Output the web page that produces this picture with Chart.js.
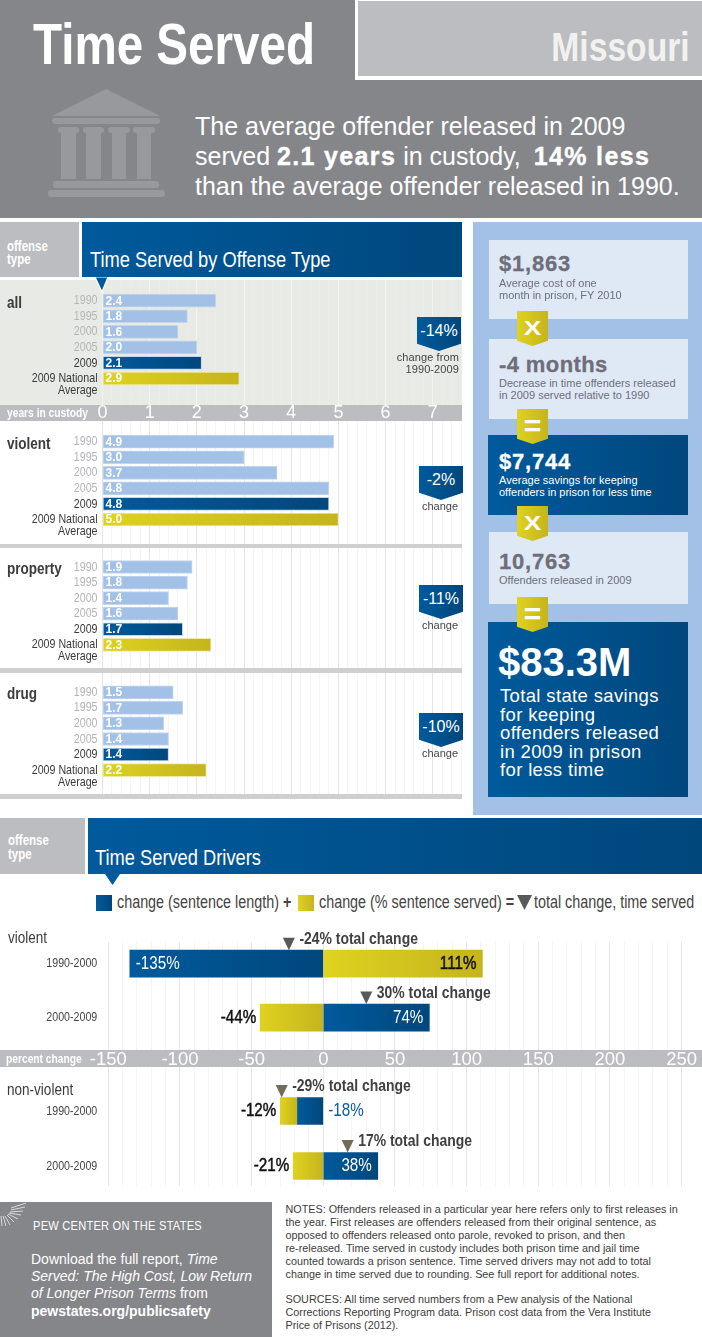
<!DOCTYPE html>
<html><head><meta charset="utf-8">
<script src="https://cdn.jsdelivr.net/npm/chart.js@4"></script>
<style>
html,body{margin:0;padding:0;background:#fff}
#page{position:relative;width:702px;height:1337px;overflow:hidden;background:#fff;font-family:"Liberation Sans",Arial,sans-serif}
.b{position:absolute}
.t{position:absolute;white-space:nowrap;line-height:1;transform:translateY(-50%)}
.n{transform:translateY(-50%) scaleX(.82);transform-origin:left center}
.p{position:absolute;white-space:nowrap}
.blue{background:linear-gradient(90deg,#005a9c,#00477c)}
.yel{background:linear-gradient(90deg,#dfd21f,#c5b41d)}
.badge{position:absolute;width:44px;height:34px;clip-path:polygon(0 0,100% 0,100% 79%,50% 100%,0 79%);color:#fff;font-size:16px;text-align:center;line-height:27px}
.ybadge{position:absolute;left:517px;width:31px;height:35px;clip-path:polygon(0 0,100% 0,100% 85%,50% 100%,0 85%);color:#fff;font-weight:bold;text-align:center}
.xg{font-size:21px;line-height:34px;display:block;transform:scaleX(1.25)}
.eq{font-size:30px;line-height:33px;display:block}
.box{position:absolute;left:489px;width:199px;background:#dfe9f6}
.dark{left:488px;width:200px;background:linear-gradient(90deg,#005a9c,#00477c)}
.big{letter-spacing:.8px;-webkit-text-stroke:.3px currentColor}
.lead b{letter-spacing:1.35px;-webkit-text-stroke:.4px #fff}
canvas{position:absolute;display:block}
</style></head><body><div id="page">

<!-- header -->
<div class="b" style="left:0;top:0;width:702px;height:218px;background:#85868a"></div>
<div class="b" style="left:355px;top:0;width:347px;height:80px;background:#fff"></div>
<div class="b" style="left:358px;top:1px;width:344px;height:75px;background:#bcbdc1"></div>
<div class="t n" style="left:33px;top:44px;font-size:58px;font-weight:bold;color:#fff">Time Served</div>
<div class="t n" style="right:12px;top:47px;font-size:41px;font-weight:bold;color:#f1f2f0;transform-origin:right center">Missouri</div>
<svg class="b" style="left:0;top:0" width="200" height="218"><g fill="#98999d">
<polygon points="106,89 160,116 52,116"/><rect x="52" y="118" width="108" height="6" rx="3"/>
<rect x="58" y="127" width="21" height="6" rx="3"/><rect x="83" y="127" width="21" height="6" rx="3"/><rect x="108" y="127" width="22" height="6" rx="3"/><rect x="133" y="127" width="22" height="6" rx="3"/>
<rect x="61" y="133" width="15" height="46"/><rect x="86" y="133" width="15" height="46"/><rect x="112" y="133" width="14" height="46"/><rect x="137" y="133" width="14" height="46"/>
<rect x="53" y="181" width="106" height="7" rx="3"/><rect x="48" y="190" width="117" height="7" rx="3"/></g></svg>
<div class="t lead" style="left:195px;top:126px;font-size:25px;color:#fff">The average offender released in 2009</div>
<div class="t lead" style="left:195px;top:156px;font-size:25px;color:#fff">served <b>2.1 years</b> in custody, <b style="margin-left:6px">14% less</b></div>
<div class="t lead" style="left:195px;top:186px;font-size:25px;color:#fff">than the average offender released in 1990.</div>

<!-- section 1 header -->
<div class="b" style="left:0;top:222px;width:79px;height:55px;background:#bcbdc1"></div>
<div class="t n" style="left:7px;top:246px;font-size:14px;font-weight:bold;color:#fff">offense</div>
<div class="t n" style="left:7px;top:259px;font-size:14px;font-weight:bold;color:#fff">type</div>
<div class="b blue" style="left:82px;top:222px;width:380px;height:55px"></div>
<div class="t n" style="left:90px;top:260px;font-size:22.3px;color:#fff">Time Served by Offense Type</div>

<!-- panels under the charts -->
<div class="b" style="left:0;top:280px;width:462px;height:125px;background:#e8eae5"></div>
<div class="b" style="left:0;top:405px;width:462px;height:16px;background:#bcbdc1"></div>
<div class="b" style="left:0;top:544px;width:462px;height:4px;background:#cfcfcf"></div>
<div class="b" style="left:0;top:668px;width:462px;height:5px;background:#cfcfcf"></div>
<div class="b" style="left:0;top:794px;width:462px;height:5px;background:#cfcfcf"></div>

<canvas id="cAll" style="left:0;top:280px" width="462" height="141"></canvas>
<canvas id="cViolent" style="left:0;top:421px" width="462" height="123"></canvas>
<canvas id="cProperty" style="left:0;top:548px" width="462" height="120"></canvas>
<canvas id="cDrug" style="left:0;top:673px" width="462" height="121"></canvas>

<svg class="b" style="left:90px;top:275px" width="26" height="20"><polygon points="5,2 18,2 12,17" fill="#00599a" stroke="#fff" stroke-width="1.2"/><rect x="0" y="0" width="26" height="2" fill="#005a9c"/></svg>

<div class="t n" style="left:7px;top:412.5px;font-size:12.5px;font-weight:bold;color:#fff">years in custody</div>
<div class="t n" style="left:7px;top:302px;font-size:16.5px;font-weight:bold;color:#3c3c3c">all</div>
<div class="t n" style="left:7px;top:443px;font-size:16.5px;font-weight:bold;color:#3c3c3c">violent</div>
<div class="t n" style="left:7px;top:568px;font-size:16.5px;font-weight:bold;color:#3c3c3c">property</div>
<div class="t n" style="left:7px;top:693px;font-size:16.5px;font-weight:bold;color:#3c3c3c">drug</div>

<div class="badge blue" style="left:417px;top:317px">-14%</div>
<div class="t" style="right:243px;top:357px;font-size:11px;letter-spacing:.1px;color:#444">change from</div>
<div class="t" style="right:243px;top:369px;font-size:11px;letter-spacing:.1px;color:#444">1990-2009</div>
<div class="badge blue" style="left:419px;top:466px">-2%</div>
<div class="t" style="left:422px;top:506px;font-size:11px;color:#444">change</div>
<div class="badge blue" style="left:419px;top:585px">-11%</div>
<div class="t" style="left:422px;top:625px;font-size:11px;color:#444">change</div>
<div class="badge blue" style="left:419px;top:713px">-10%</div>
<div class="t" style="left:422px;top:753px;font-size:11px;color:#444">change</div>

<!-- right column -->
<div class="b" style="left:473px;top:222px;width:229px;height:593px;background:#a3c1e6"></div>
<div class="box" style="top:240px;height:79px"></div>
<div class="box" style="top:339px;height:80px"></div>
<div class="box dark" style="top:435px;height:80px"></div>
<div class="box" style="top:532px;height:72px"></div>
<div class="box dark" style="top:622px;height:175px"></div>
<div class="ybadge yel" style="top:311px"><span class="xg">X</span></div>
<div class="ybadge yel" style="top:409px"><span class="eq">=</span></div>
<div class="ybadge yel" style="top:506px"><span class="xg">X</span></div>
<div class="ybadge yel" style="top:597px"><span class="eq">=</span></div>
<div class="t big" style="left:499px;top:264px;font-size:22px;font-weight:bold;color:#6e6e7a">$1,863</div>
<div class="t" style="left:499px;top:283px;font-size:11px;color:#6e6e7a">Average cost of one</div>
<div class="t" style="left:499px;top:295px;font-size:11px;color:#6e6e7a">month in prison, FY 2010</div>
<div class="t" style="left:499px;top:365px;font-size:22px;font-weight:bold;letter-spacing:.4px;-webkit-text-stroke:.3px #6e6e7a;color:#6e6e7a">-4 months</div>
<div class="t" style="left:499px;top:383px;font-size:11px;color:#6e6e7a">Decrease in time offenders released</div>
<div class="t" style="left:499px;top:395px;font-size:11px;color:#6e6e7a">in 2009 served relative to 1990</div>
<div class="t big" style="left:499px;top:462px;font-size:22px;font-weight:bold;color:#fff">$7,744</div>
<div class="t" style="left:499px;top:480px;font-size:11px;color:#fff">Average savings for keeping</div>
<div class="t" style="left:499px;top:492px;font-size:11px;color:#fff">offenders in prison for less time</div>
<div class="t big" style="left:499px;top:562px;font-size:22px;font-weight:bold;color:#6e6e7a">10,763</div>
<div class="t" style="left:499px;top:580px;font-size:11px;color:#6e6e7a">Offenders released in 2009</div>
<div class="t" style="left:498px;top:662px;font-size:40px;font-weight:bold;color:#fff">$83.3M</div>
<div class="t" style="left:500px;top:696px;font-size:18.5px;letter-spacing:.35px;color:#fff">Total state savings</div>
<div class="t" style="left:500px;top:715px;font-size:18.5px;letter-spacing:.35px;color:#fff">for keeping</div>
<div class="t" style="left:500px;top:733px;font-size:18.5px;letter-spacing:.35px;color:#fff">offenders released</div>
<div class="t" style="left:500px;top:752px;font-size:18.5px;letter-spacing:.35px;color:#fff">in 2009 in prison</div>
<div class="t" style="left:500px;top:770px;font-size:18.5px;letter-spacing:.35px;color:#fff">for less time</div>

<!-- section 2 header -->
<div class="b" style="left:0;top:818px;width:85px;height:56px;background:#bcbdc1"></div>
<div class="t n" style="left:8px;top:840px;font-size:14px;font-weight:bold;color:#fff">offense</div>
<div class="t n" style="left:8px;top:854px;font-size:14px;font-weight:bold;color:#fff">type</div>
<div class="b blue" style="left:88px;top:818px;width:614px;height:56px"></div>
<div class="t n" style="left:94.5px;top:858px;font-size:22.3px;color:#fff">Time Served Drivers</div>
<svg class="b" style="left:100px;top:874px" width="26" height="14"><polygon points="5,0 20,0 12.5,11" fill="#005a9c"/></svg>

<!-- driver legend -->
<div class="b blue" style="left:96px;top:895px;width:16px;height:16px"></div>
<div class="t n" style="left:116.5px;top:903px;font-size:17.5px;color:#444">change (sentence length) <b>+</b></div>
<div class="b yel" style="left:298px;top:895px;width:16px;height:16px"></div>
<div class="t n" style="left:319px;top:903px;font-size:17.5px;color:#444">change (% sentence served) <b>=</b></div>
<svg class="b" style="left:517px;top:895px" width="15" height="16"><polygon points="0,0 15,0 7.5,15" fill="#58595b"/></svg>
<div class="t n" style="left:534px;top:903px;font-size:17.5px;color:#444">total change, time served</div>

<div class="b" style="left:0;top:1050px;width:702px;height:17px;background:#bcbdc1"></div>
<canvas id="cDrvV" style="left:0;top:925px" width="702" height="142"></canvas>
<canvas id="cDrvN" style="left:0;top:1067px" width="702" height="119"></canvas>
<div class="t n" style="left:5.5px;top:1059px;font-size:12.5px;font-weight:bold;color:#fff">percent change</div>
<div class="t n" style="left:8px;top:936.5px;font-size:16.5px;color:#3c3c3c">violent</div>
<div class="t n" style="left:7px;top:1088.5px;font-size:16.5px;color:#3c3c3c">non-violent</div>

<!-- footer -->
<div class="b" style="left:0;top:1202px;width:272px;height:135px;background:#85868a"></div>
<svg class="b" style="left:0;top:1202px" width="30" height="26"><g stroke="#fff" stroke-width="0.8" opacity="0.85">
<line x1="11" y1="6" x2="26" y2="1"/><line x1="11" y1="8" x2="25" y2="5"/><line x1="10" y1="10" x2="23" y2="9"/><line x1="9" y1="11" x2="21" y2="13"/><line x1="8" y1="12" x2="18" y2="17"/><line x1="7" y1="13" x2="14" y2="20"/><line x1="5" y1="14" x2="10" y2="23"/><line x1="3" y1="14" x2="6" y2="24"/><line x1="1" y1="14" x2="2" y2="24"/></g></svg>
<div class="t n" style="left:32.5px;top:1225.5px;font-size:13.5px;letter-spacing:.3px;color:#fff">PEW CENTER ON THE STATES</div>
<div class="p" style="left:31px;top:1250.5px;font-size:14px;line-height:17.4px;color:#fff">Download the full report, <i>Time<br>Served: The High Cost, Low Return<br>of Longer Prison Terms</i> from<br><b>pewstates.org/publicsafety</b></div>
<div class="p" style="left:285.5px;top:1203px;font-size:10.8px;line-height:13px;color:#3c3c3c">NOTES: Offenders released in a particular year here refers only to first releases in<br>the year. First releases are offenders released from their original sentence, as<br>opposed to offenders released onto parole, revoked to prison, and then<br>re-released. Time served in custody includes both prison time and jail time<br>counted towards a prison sentence. Time served drivers may not add to total<br>change in time served due to rounding. See full report for additional notes.</div>
<div class="p" style="left:285.5px;top:1292.5px;font-size:10.8px;line-height:13.4px;color:#3c3c3c">SOURCES: All time served numbers from a Pew analysis of the National<br>Corrections Reporting Program data. Prison cost data from the Vera Institute<br>Price of Prisons (2012).</div>

</div>
<script>
// ---- data ----
const years = ["1990","1995","2000","2005","2009","2009 National"];
const allValues      = [2.4,1.8,1.6,2.0,2.1,2.9];
const violentValues  = [4.9,3.0,3.7,4.8,4.8,5.0];
const propertyValues = [1.9,1.8,1.4,1.6,1.7,2.3];
const drugValues     = [1.5,1.7,1.3,1.4,1.4,2.2];
const periods = ["1990-2000","2000-2009"];
const sentenceViolent = [-135,74];
const servedViolent   = [111,-44];
const totalViolent    = [-24,30];
const sentenceNon = [-18,38];
const servedNon   = [-12,-21];
const totalNon    = [-29,17];

Chart.defaults.animation = false;
const SANS = '"Liberation Sans",Arial,sans-serif';
Chart.defaults.font.family = SANS;

function grad(ctx,x0,x1,c0,c1){
  if(!isFinite(x0)||!isFinite(x1)) return c0;
  const a=Math.min(x0,x1),b=Math.max(x0,x1);
  const g=ctx.createLinearGradient(a,0,Math.max(b,a+1),0);g.addColorStop(0,c0);g.addColorStop(1,c1);return g;}
function nText(c,txt,x,y,align,stroke){c.save();c.translate(x,y);c.scale(.82,1);c.textAlign=align;c.fillText(txt,0,0);
  if(stroke){c.strokeStyle=c.fillStyle;c.lineWidth=stroke;c.strokeText(txt,0,0);}c.restore();}

// condensed y-axis labels, placed by the y scale
const condensedTicks = {id:'condensedTicks',afterDatasetsDraw(chart,args,o){
  const c=chart.ctx,y=chart.scales.y,right=chart.chartArea.left-o.gap;
  c.save();c.font=o.size+'px '+SANS;c.textBaseline='middle';
  y.ticks.forEach((t,i)=>{c.fillStyle=o.color(i);nText(c,t.label,right,y.getPixelForValue(t.value),'right');});
  c.restore();}};

const valueLabels = {id:'valueLabels',afterDatasetsDraw(chart){
  const c=chart.ctx,m=chart.getDatasetMeta(0);
  c.save();c.font='bold 12px '+SANS;c.fillStyle='#fff';c.textBaseline='middle';c.textAlign='left';
  m.data.forEach((el,i)=>{c.fillText(chart.data.datasets[0].data[i].x.toFixed(1),chart.scales.x.getPixelForValue(0)+3,el.y+0.5);});
  c.restore();}};

function timeChart(id,values,top,bottom,firstRow,showAxis){
  const step=15.56;
  new Chart(document.getElementById(id),{
    type:'bar',
    plugins:[condensedTicks,valueLabels],
    data:{datasets:[{
      data:values.map((v,i)=>({x:v,y:i})),
      barThickness:13,
      borderWidth:1,
      borderSkipped:false,
      borderColor:c=>c.dataIndex===5?'#eee9a8':'#c3d6ee',
      backgroundColor:c=>{
        if(c.dataIndex<4) return '#a3c1e6';
        const x=c.chart.scales.x,x0=x.getPixelForValue(0),x1=x.getPixelForValue(values[c.dataIndex]);
        return c.dataIndex===4?grad(c.chart.ctx,x0,x1,'#005a9c','#00477c'):grad(c.chart.ctx,x0,x1,'#dfd21f','#c5b41d');
      }}]},
    options:{
      indexAxis:'y',responsive:false,maintainAspectRatio:false,
      layout:{padding:0},
      plugins:{legend:{display:false},tooltip:{enabled:false},
        condensedTicks:{size:13,gap:5,color:i=>i<4?'#b3b4b8':'#3a3a3a'}},
      scales:{
        y:{type:'linear',reverse:true,offset:false,
          min:(top-firstRow)/step,max:(bottom-firstRow)/step,
          border:{display:false},grid:{display:false,drawTicks:false},
          afterFit:s=>{s.width=102.5;},
          afterBuildTicks:s=>{s.ticks=[0,1,2,3,4,5,5.76].map(v=>({value:v}));},
          ticks:{display:false,autoSkip:false,callback:(v,i)=>i<6?years[i]:'Average'}},
        x:{type:'linear',min:0,max:7.62,position:'bottom',
          border:{display:false},
          grid:{drawTicks:false,lineWidth:1,
            color:c=>{const v=c.tick.value,major=Math.abs(v-Math.round(v))<1e-6;
              return showAxis?(major?'#f3f3ef':'#ebede8'):(major?'#e6e6e6':'#f5f5f5');}},
          afterFit:s=>{s.height=showAxis?16:0;},
          ticks:{display:showAxis,stepSize:0.2,autoSkip:false,includeBounds:false,maxRotation:0,padding:-3,
            color:'#fff',font:{size:18,family:SANS},
            callback:v=>Math.abs(v-Math.round(v))<1e-6?String(Math.round(v)):''}}
      }}});
}
timeChart('cAll',allValues,280,405,300.7,true);
timeChart('cViolent',violentValues,421,544,441.7,false);
timeChart('cProperty',propertyValues,548,668,567,false);
timeChart('cDrug',drugValues,673,794,692.3,false);

const driverMarks = {id:'driverMarks',afterDatasetsDraw(chart,args,o){
  const c=chart.ctx,x=chart.scales.x;
  const blue=chart.data.datasets[0].data,yel=chart.data.datasets[1].data;
  const metaB=chart.getDatasetMeta(0),metaY=chart.getDatasetMeta(1);
  c.save();c.textBaseline='middle';
  blue.forEach((b,i)=>{
    const elB=metaB.data[i],elY=metaY.data[i],cy=elB.y;
    const bv=b.x,yv=yel[i].x;
    c.font='18.5px '+SANS;
    // blue segment label
    if(Math.abs(bv)>=30){c.fillStyle='#fff';
      if(bv<0) nText(c,bv+'%',elB.x+6,cy,'left');
      else nText(c,bv+'%',elB.x-6,cy,'right');
    }else{c.fillStyle='#0a5a9c';nText(c,bv+'%',x.getPixelForValue(0)+5,cy,'left');}
    // yellow segment label
    c.fillStyle='#111';
    nText(c,yv+'%',elY.x-(yv<0?4:6),cy,'right',0.5);
    // total-change marker
    const tv=o.totals[i],px=x.getPixelForValue(tv),top=cy-elB.height/2;
    c.fillStyle=o.marker;c.beginPath();c.moveTo(px-6,top-12.5);c.lineTo(px+6,top-12.5);c.lineTo(px,top);c.closePath();c.fill();
    c.fillStyle='#404040';c.font='bold 17px '+SANS;
    nText(c,tv+'% total change',px+10.5,top-11,'left');
  });
  c.restore();}};

function driverChart(id,sentence,served,totals,top,bottom,row0,step,showAxis,marker,padTop){
  const segment=(arr,other,isSecond)=>c=>{
    const x=c.chart.scales.x,i=c.dataIndex,v=arr[i];
    const start=(isSecond&&Math.sign(v)===Math.sign(other[i]))?other[i]:0;
    const x0=x.getPixelForValue(start),x1=x.getPixelForValue(start+v);
    return isSecond?grad(c.chart.ctx,x0,x1,'#dfd21f','#c5b41d'):grad(c.chart.ctx,x0,x1,'#005a9c','#00477c');
  };
  new Chart(document.getElementById(id),{
    type:'bar',
    plugins:[condensedTicks,driverMarks],
    data:{datasets:[
      {label:'change (sentence length)',data:sentence.map((v,i)=>({x:v,y:i})),barThickness:27,backgroundColor:segment(sentence,served,false)},
      {label:'change (% sentence served)',data:served.map((v,i)=>({x:v,y:i})),barThickness:27,backgroundColor:segment(served,sentence,true)}
    ]},
    options:{
      indexAxis:'y',responsive:false,maintainAspectRatio:false,
      layout:{padding:{left:0,right:20.4,top:padTop,bottom:0}},
      plugins:{legend:{display:false},tooltip:{enabled:false},
        condensedTicks:{size:13,gap:11,color:()=>'#444'},
        driverMarks:{totals,marker}},
      scales:{
        y:{type:'linear',reverse:true,stacked:true,offset:false,
          min:(top-row0)/step,max:(bottom-row0)/step,
          border:{display:false},grid:{display:false,drawTicks:false},
          afterFit:s=>{s.width=108.3;},
          afterBuildTicks:s=>{s.ticks=periods.map((p,i)=>({value:i}));},
          ticks:{display:false,autoSkip:false,callback:(v,i)=>periods[i]}},
        x:{type:'linear',stacked:true,min:-150,max:250,position:'bottom',
          border:{display:false},
          grid:{drawTicks:false,lineWidth:1,color:c=>c.tick.value%50===0?'#e6e6e6':'#f5f5f5'},
          afterFit:s=>{s.height=showAxis?17:0;},
          ticks:{display:showAxis,stepSize:10,autoSkip:false,maxRotation:0,padding:-1,
            color:'#fff',font:{size:18.5,family:SANS},
            callback:v=>v%50===0?String(v):''}}
      }}});
}
driverChart('cDrvV',sentenceViolent,servedViolent,totalViolent,942,1050,963.7,53.9,true,'#58595b',17);
driverChart('cDrvN',sentenceNon,servedNon,totalNon,1067,1186,1111,55,false,'#6f6c58',0);
</script>
</body></html>
